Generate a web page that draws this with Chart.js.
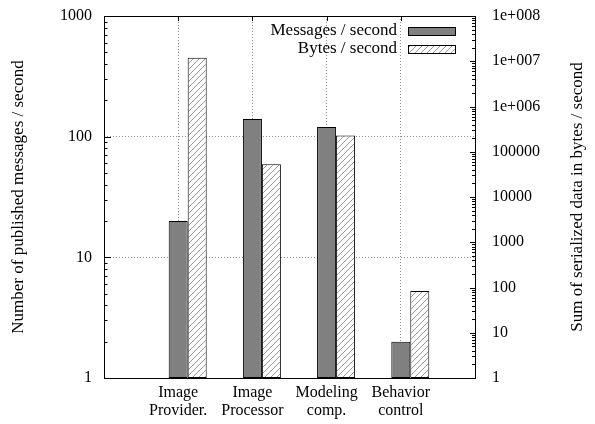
<!DOCTYPE html>
<html>
<head>
<meta charset="utf-8">
<script src="https://cdn.jsdelivr.net/npm/chart.js@4.4.1/dist/chart.umd.min.js"></script>
<style>
  html, body { margin: 0; padding: 0; background: #fff; }
</style>
</head>
<body>
<canvas id="myChart" width="595" height="424"></canvas>
<script>
// data
const categories = [
  ["Image", "Provider."],
  ["Image", "Processor"],
  ["Modeling", "comp."],
  ["Behavior", "control"],
];
const messagesPerSecond = [20, 140, 120, 2];
const bytesPerSecond = [12000000, 53000, 230000, 84];
const leftTicks = [1, 10, 100, 1000];
const rightTicks = [1, 10, 100, 1000, 10000, 100000, 1000000, 10000000, 100000000];

const FONT = "'Liberation Serif', 'Times New Roman', serif";
const tickFont = { family: FONT, size: 16 };
const titleFont = { family: FONT, size: 17 };

// empty slot at each end, like the original plot
const labels = ["", ...categories, ""];
const pad = (arr) => [null, ...arr, null];

// diagonal hatch for the bytes bars
function makeHatch() {
  const c = document.createElement("canvas");
  c.width = 6;
  c.height = 6;
  const g = c.getContext("2d");
  g.fillStyle = "#fff";
  g.fillRect(0, 0, 6, 6);
  g.strokeStyle = "#9a9a9a";
  g.lineWidth = 1;
  g.beginPath();
  g.moveTo(-1, 7); g.lineTo(7, -1);
  g.moveTo(-1, 1); g.lineTo(1, -1);
  g.moveTo(5, 7); g.lineTo(7, 5);
  g.stroke();
  return g.createPattern(c, "repeat");
}

function expLabel(v) {
  if (v >= 1000000) return "1e+" + String(Math.round(Math.log10(v))).padStart(3, "0");
  return String(v);
}

// keep the plot box where the original has it
function fixSize(size) {
  return (s) => {
    if (s.isHorizontal()) s.height = size; else s.width = size;
    s.paddingTop = 0;
    s.paddingBottom = 0;
    s.paddingLeft = 0;
    s.paddingRight = 0;
  };
}

// frame, inner tick marks, legend and right title
const framePlugin = {
  id: "frame",
  afterDatasetsDraw(chart) {
    const { ctx, chartArea: a, scales } = chart;
    ctx.save();
    ctx.strokeStyle = "#000";
    ctx.lineWidth = 1;
    ctx.beginPath();
    // left axis ticks
    for (let d = 1; d < 1000; d *= 10) {
      for (let m = 1; m <= 9; m++) {
        const y = Math.round(scales.y.getPixelForValue(m * d)) + 0.5;
        const len = m === 1 ? 7 : 3.5;
        ctx.moveTo(a.left, y); ctx.lineTo(a.left + len, y);
      }
    }
    // right axis ticks
    for (let d = 1; d < 1e8; d *= 10) {
      for (let m = 1; m <= 9; m++) {
        const y = Math.round(scales.y2.getPixelForValue(m * d)) + 0.5;
        const len = m === 1 ? 5 : 3;
        ctx.moveTo(a.right, y); ctx.lineTo(a.right - len, y);
      }
    }
    // top ticks at categories
    categories.forEach((c, i) => {
      const x = Math.round(scales.x.getPixelForValue(i + 1)) + 0.5;
      ctx.moveTo(x, a.top); ctx.lineTo(x, a.top + 5);
    });
    ctx.stroke();
    ctx.strokeRect(Math.round(a.left) + 0.5, Math.round(a.top) + 0.5,
      Math.round(a.right - a.left), Math.round(a.bottom - a.top));
    ctx.restore();
  },
  afterDraw(chart) {
    const { ctx, chartArea: a } = chart;
    ctx.save();
    ctx.font = "17px " + FONT;
    ctx.textAlign = "right";
    ctx.textBaseline = "middle";
    ctx.fillStyle = "#000";
    const items = chart.data.datasets.filter((d) => d.label);
    items.forEach((ds, i) => {
      const yc = a.top + 14.5 + i * 18.5;
      ctx.fillText(ds.label, a.right - 78, yc);
      const bx = a.right - 67;
      ctx.fillStyle = ds.backgroundColor;
      ctx.fillRect(bx, Math.round(yc - 4), 47, 8);
      ctx.strokeStyle = "#000";
      ctx.lineWidth = 1;
      ctx.strokeRect(bx + 0.5, Math.round(yc - 4) + 0.5, 47, 8);
      ctx.fillStyle = "#000";
    });
    // right axis title, reading bottom to top
    ctx.translate(578, (a.top + a.bottom) / 2);
    ctx.rotate(-Math.PI / 2);
    ctx.textAlign = "center";
    ctx.font = titleFont.size + "px " + FONT;
    ctx.fillText("Sum of serialized data in bytes / second", 0, 0);
    ctx.restore();
  },
};

const data = {
  labels,
  datasets: [
    {
      // spacer so the grey bar sits on the category line
      label: "",
      data: labels.map(() => null),
      yAxisID: "y",
    },
    {
      label: "Messages / second",
      data: pad(messagesPerSecond),
      backgroundColor: "#808080",
      borderColor: "#000",
      borderWidth: 1,
      borderSkipped: false,
      yAxisID: "y",
    },
    {
      label: "Bytes / second",
      data: pad(bytesPerSecond),
      backgroundColor: makeHatch(),
      borderColor: "#000",
      borderWidth: 1,
      borderSkipped: false,
      yAxisID: "y2",
    },
  ],
};

// config
const config = {
  type: "bar",
  data,
  plugins: [framePlugin],
  options: {
    responsive: false,
    animation: false,
    devicePixelRatio: 1,
    layout: { padding: { top: 16, left: 0, right: 0, bottom: 0 } },
    datasets: {
      bar: { categoryPercentage: 0.768, barPercentage: 1 },
    },
    scales: {
      x: {
        type: "category",
        offset: false,
        afterFit: fixSize(46),
        grid: {
          offset: false,
          drawTicks: false,
          color: (c) => (c.index > 0 && c.index < labels.length - 1 ? "#8c8c8c" : "rgba(0,0,0,0)"),
        },
        border: { display: false, dash: [1, 2] },
        ticks: {
          font: { ...tickFont, lineHeight: 1.1 },
          color: "#000",
          padding: 6,
          maxRotation: 0,
          autoSkip: false,
        },
      },
      y: {
        type: "logarithmic",
        position: "left",
        min: 1,
        max: 1000,
        afterBuildTicks: (s) => { s.ticks = leftTicks.map((v) => ({ value: v })); },
        afterFit: fixSize(104),
        grid: {
          drawTicks: false,
          color: (c) => (c.tick && c.tick.value > 1 && c.tick.value < 1000 ? "#8c8c8c" : "rgba(0,0,0,0)"),
        },
        border: { display: false, dash: [1, 2] },
        ticks: {
          font: tickFont,
          color: "#000",
          padding: 12,
          autoSkip: false,
          callback: (v) => String(v),
        },
        title: {
          display: true,
          text: "Number of published messages / second",
          font: titleFont,
          color: "#000",
          padding: { top: 8, bottom: 0 },
        },
      },
      y2: {
        type: "logarithmic",
        position: "right",
        min: 1,
        max: 100000000,
        afterBuildTicks: (s) => { s.ticks = rightTicks.map((v) => ({ value: v })); },
        afterFit: fixSize(120),
        grid: { drawOnChartArea: false, drawTicks: false },
        border: { display: false },
        ticks: {
          font: tickFont,
          color: "#000",
          padding: 17,
          autoSkip: false,
          callback: (v) => expLabel(v),
        },
      },
    },
    plugins: {
      legend: { display: false },
      tooltip: { enabled: false },
    },
  },
};

// render init block
const myChart = new Chart(document.getElementById("myChart"), config);
</script>
</body>
</html>
